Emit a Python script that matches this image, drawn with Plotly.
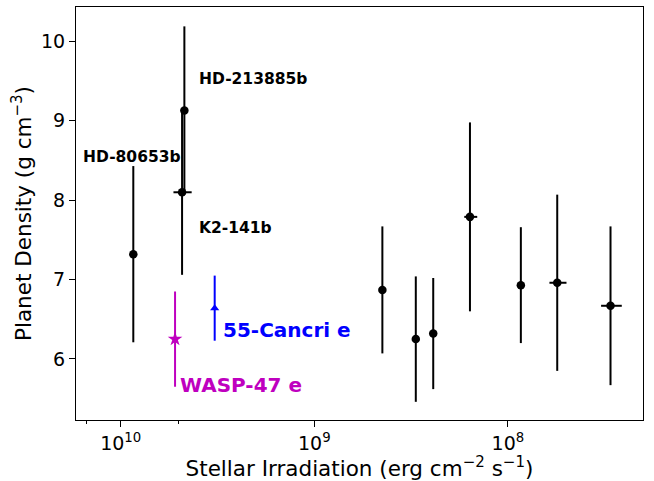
import numpy as np
import plotly.graph_objects as go

# main sample (black)
names = ["HD-80653b", "K2-141b", "HD-213885b", "", "", "", "", "", "", ""]
irrad = [8.61e9, 4.82e9, 4.69e9, 4.45e8, 2.99e8, 2.43e8, 1.57e8, 8.57e7, 5.56e7, 2.95e7]
irrad_hi = [0, 0.52e9, 0, 0, 0, 0, 0.11e8, 0, 0.54e7, 0.35e7]
irrad_lo = [0, 0.52e9, 0, 0, 0, 0, 0.13e8, 0, 0.58e7, 0.37e7]
density = [7.32, 8.10, 9.13, 6.87, 6.25, 6.32, 7.79, 6.93, 6.96, 6.67]
density_err = [1.11, 1.04, 1.06, 0.80, 0.79, 0.70, 1.19, 0.73, 1.11, 1.00]

# highlighted planets
wasp_irr = [5.24e9]
wasp_den = [6.25]
wasp_err = [0.60]
cnc_irr = [3.27e9]
cnc_den = [6.64]
cnc_err = [0.41]

FONT = "DejaVu Sans"

fig = go.Figure()

fig.add_trace(go.Scatter(
    x=irrad, y=density, mode="markers",
    marker=dict(color="black", size=8.5),
    error_y=dict(type="data", array=density_err, color="black", thickness=2, width=0),
    error_x=dict(type="data", array=irrad_hi, arrayminus=irrad_lo, color="black", thickness=2, width=0),
    showlegend=False,
))
fig.add_trace(go.Scatter(
    x=wasp_irr, y=wasp_den, mode="markers",
    marker=dict(color="#bf00bf", size=11, symbol="star"),
    error_y=dict(type="data", array=wasp_err, color="#bf00bf", thickness=2, width=0),
    showlegend=False,
))
fig.add_trace(go.Scatter(
    x=cnc_irr, y=cnc_den, mode="markers",
    marker=dict(color="blue", size=8, symbol="triangle-up"),
    error_y=dict(type="data", array=cnc_err, color="blue", thickness=2, width=0),
    showlegend=False,
))

# labels
labels = [
    ("HD-80653b", 1.6e10, 8.55),
    ("HD-213885b", 4.05e9, 9.53),
    ("K2-141b", 4.05e9, 7.65),
]
for txt, xx, yy in labels:
    fig.add_annotation(x=np.log10(xx), y=yy, text="<b>%s</b>" % txt, showarrow=False,
                       xanchor="left", yanchor="middle", font=dict(family=FONT, size=15.5, color="black"))
fig.add_annotation(x=np.log10(3.05e9), y=6.37, text="<b>55-Cancri e</b>", showarrow=False,
                   xanchor="left", yanchor="middle", font=dict(family=FONT, size=20, color="blue"))
fig.add_annotation(x=np.log10(5.05e9), y=5.67, text="<b>WASP-47 e</b>", showarrow=False,
                   xanchor="left", yanchor="middle", font=dict(family=FONT, size=20, color="#bf00bf"))

fig.update_xaxes(
    type="log", range=[10.231, 7.302], automargin=False,
    tickvals=[1e10, 1e9, 1e8], ticktext=["10<sup>10</sup>", "10<sup>9</sup>", "10<sup>8</sup>"],
    ticks="outside", ticklen=6, tickwidth=1, tickcolor="black",
    minor=dict(ticks="outside", ticklen=3, tickcolor="black", showgrid=False),
    showline=True, linecolor="black", linewidth=1, mirror=True, showgrid=False, zeroline=False,
    tickfont=dict(family=FONT, size=19, color="black"),
    title=dict(text="Stellar Irradiation (erg cm<sup>−2</sup> s<sup>−1</sup>)",
               font=dict(family=FONT, size=21.5, color="black"), standoff=4),
)
fig.update_yaxes(
    range=[5.231, 10.434], tickvals=[6, 7, 8, 9, 10], automargin=False,
    ticks="outside", ticklen=6, tickwidth=1, tickcolor="black",
    showline=True, linecolor="black", linewidth=1, mirror=True, showgrid=False, zeroline=False,
    tickfont=dict(family=FONT, size=19, color="black"),
    title=dict(text="Planet Density (g cm<sup>−3</sup>)",
               font=dict(family=FONT, size=21.5, color="black"), standoff=3),
)
fig.update_layout(
    width=654, height=481,
    margin=dict(l=76, r=11, t=7, b=61),
    plot_bgcolor="white", paper_bgcolor="white",
)

# page body has a default 8px margin; drop it so the figure fills the window
fig.write_html("out.html", config={"displayModeBar": False},
               post_script="document.body.style.margin='0';")
